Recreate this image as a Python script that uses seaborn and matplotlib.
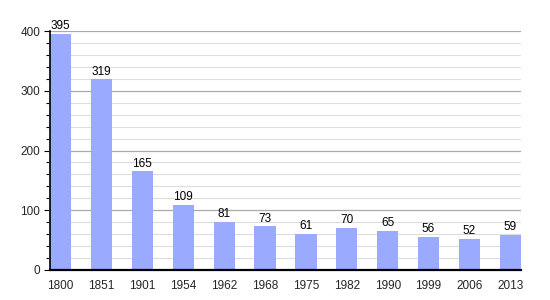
import matplotlib
matplotlib.use("Agg")
import matplotlib.pyplot as plt
import seaborn as sns
import pandas as pd
from matplotlib.ticker import MultipleLocator

years = ["1800", "1851", "1901", "1954", "1962", "1968", "1975", "1982", "1990", "1999", "2006", "2013"]
population = [395, 319, 165, 109, 81, 73, 61, 70, 65, 56, 52, 59]

df = pd.DataFrame({"year": years, "pop": population})

sns.set_theme(style="white")
plt.rcParams["font.family"] = ["Liberation Sans", "DejaVu Sans"]

fig = plt.figure(figsize=(5.5, 3), dpi=100)
ax = fig.add_axes([50/550, 30/300, 471/550, 239/300])

sns.barplot(data=df, x="year", y="pop", color="#99aaff", saturation=1, width=0.52,
            linewidth=0, edgecolor="none", ax=ax, zorder=3)

ax.set_ylim(0, 400)
ax.set_xlim(-0.26, 11.26)
ax.yaxis.set_major_locator(MultipleLocator(100))
ax.yaxis.set_minor_locator(MultipleLocator(20))
ax.grid(axis="y", which="major", color="#aaaaaa", linewidth=0.9, zorder=0)
ax.grid(axis="y", which="minor", color="#dddddd", linewidth=0.8, zorder=0)
ax.set_axisbelow(True)

for s in ["top", "right"]:
    ax.spines[s].set_visible(False)
for s in ["left", "bottom"]:
    ax.spines[s].set_color("black")
    ax.spines[s].set_zorder(5)
ax.spines["left"].set_linewidth(1.2)
ax.spines["bottom"].set_linewidth(1.6)

ax.tick_params(axis="y", which="major", left=True, length=4, width=0.8, color="black", labelsize=8.5, pad=3)
ax.tick_params(axis="y", which="minor", left=True, length=3, width=0.8, color="black")
ax.tick_params(axis="x", bottom=False, labelsize=8.5, pad=1)
ax.set_xlabel("")
ax.set_ylabel("")

for i, v in enumerate(population):
    ax.text(i, v + 3, str(v), ha="center", va="bottom", fontsize=8.5, color="black")

fig.savefig("out.png", dpi=100)
